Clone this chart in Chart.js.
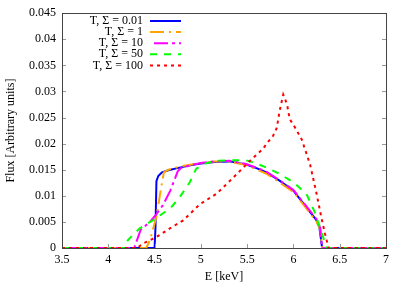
<!DOCTYPE html>
<html>
<head>
<meta charset="utf-8">
<script src="https://cdn.jsdelivr.net/npm/chart.js@4.4.1/dist/chart.umd.min.js"></script>
<style>
  html, body { margin: 0; padding: 0; background: #fff; }
  #wrap { width: 407px; height: 285px; }
</style>
</head>
<body>
<div id="wrap"><canvas id="chart" width="407" height="285"></canvas></div>
<script>
// Energy [keV] and flux values
const labels = ['T, \u03A3 = 0.01', 'T, \u03A3 = 1', 'T, \u03A3 = 10', 'T, \u03A3 = 50', 'T, \u03A3 = 100'];

const eSig001 = [3.5, 4.5, 4.51, 4.52, 4.54, 4.58, 4.65, 4.77, 4.9, 5.0, 5.15, 5.31, 5.49, 5.6, 5.71, 5.85, 6.0, 6.14, 6.25, 6.28, 6.31, 7];
const fSig001 = [0, 0, 0.004, 0.0128, 0.0138, 0.0145, 0.0149, 0.0154, 0.0159, 0.0162, 0.0165, 0.0166, 0.016, 0.0153, 0.0145, 0.0129, 0.011, 0.0078, 0.0053, 0.004, 0, 0];

const eSig1 = [3.5, 4.41, 4.45, 4.52, 4.56, 4.6, 4.65, 4.77, 4.9, 5.0, 5.15, 5.3, 5.49, 5.6, 5.71, 5.85, 6.0, 6.14, 6.25, 6.29, 6.31, 7];
const fSig1 = [0, 0, 0.0015, 0.006, 0.0104, 0.0145, 0.015, 0.0156, 0.016, 0.0163, 0.0166, 0.0166, 0.0159, 0.0151, 0.0142, 0.0126, 0.0107, 0.0076, 0.005, 0.0035, 0, 0];

const eSig10 = [3.5, 4.28, 4.31, 4.35, 4.45, 4.52, 4.59, 4.67, 4.72, 4.75, 4.79, 4.9, 5.0, 5.15, 5.31, 5.49, 5.6, 5.71, 5.85, 6.0, 6.14, 6.25, 6.29, 6.31, 7];
const fSig10 = [0, 0, 0.0015, 0.0035, 0.005, 0.0065, 0.0082, 0.011, 0.0133, 0.0147, 0.0154, 0.0159, 0.0163, 0.0166, 0.0167, 0.0161, 0.0154, 0.0146, 0.013, 0.0111, 0.008, 0.0055, 0.0038, 0, 0];

const eSig50 = [3.5, 4.18, 4.21, 4.34, 4.48, 4.67, 4.77, 4.88, 4.95, 5.05, 5.17, 5.31, 5.49, 5.6, 5.71, 5.85, 6.0, 6.14, 6.23, 6.32, 6.36, 7];
const fSig50 = [0, 0, 0.0015, 0.0038, 0.0053, 0.0076, 0.0097, 0.0126, 0.0152, 0.0162, 0.0167, 0.0168, 0.0168, 0.0162, 0.0154, 0.0142, 0.0126, 0.0104, 0.0069, 0.0021, 0, 0];

const eSig100 = [3.5, 4.31, 4.38, 4.52, 4.67, 4.81, 4.99, 5.17, 5.35, 5.53, 5.67, 5.72, 5.78, 5.82, 5.85, 5.89, 5.93, 5.96, 6.02, 6.09, 6.18, 6.25, 6.3, 6.34, 6.38, 7];
const fSig100 = [0, 0, 0.0009, 0.0021, 0.0038, 0.0053, 0.0084, 0.0104, 0.0135, 0.0167, 0.019, 0.0202, 0.0215, 0.023, 0.0262, 0.0294, 0.0276, 0.0247, 0.023, 0.0208, 0.016, 0.0104, 0.006, 0.0028, 0, 0];

const colors = ['#0000ff', '#ffa500', '#ff00ff', '#00ff00', '#ff0000'];
const dashes = [[], [14, 5, 2, 5], [14, 4, 3, 4], [7, 7], [3, 4]];
const dashOffsets = [0, 0, 21, 0, 0];

const serif = '"Liberation Serif", "DejaVu Serif", serif';

function pts(xs, ys) {
    return xs.map((x, i) => ({ x: x, y: ys[i] }));
}

const series = [
    pts(eSig001, fSig001),
    pts(eSig1, fSig1),
    pts(eSig10, fSig10),
    pts(eSig50, fSig50),
    pts(eSig100, fSig100)
];

const datasets = series.map((d, i) => ({
    label: labels[i],
    data: d,
    borderColor: colors[i],
    borderWidth: 2,
    borderDash: dashes[i],
    borderDashOffset: dashOffsets[i],
    pointRadius: 0,
    tension: 0,
    fill: false,
    order: series.length - i
}));

// inward tick marks on left, right and bottom, plus the frame
const frameTicks = {
    id: 'frameTicks',
    afterDraw(chart) {
        const ctx = chart.ctx;
        const a = chart.chartArea;
        const xs = chart.scales.x, ys = chart.scales.y;
        ctx.save();
        ctx.strokeStyle = '#999';
        ctx.lineWidth = 1;
        ctx.beginPath();
        xs.ticks.forEach(t => {
            const px = Math.round(xs.getPixelForValue(t.value)) + 0.5;
            ctx.moveTo(px, a.bottom);
            ctx.lineTo(px, a.bottom - 4);
        });
        ys.ticks.forEach(t => {
            const py = Math.round(ys.getPixelForValue(t.value)) + 0.5;
            ctx.moveTo(a.left, py);
            ctx.lineTo(a.left + 4, py);
            ctx.moveTo(a.right, py);
            ctx.lineTo(a.right - 4, py);
        });
        ctx.stroke();
        ctx.strokeStyle = '#444';
        ctx.strokeRect(Math.round(a.left) + 0.5, Math.round(a.top) + 0.5,
            Math.round(a.right - a.left), Math.round(a.bottom - a.top));
        ctx.restore();
    }
};

// gnuplot style key: right aligned text followed by a line sample
const keyBox = {
    id: 'keyBox',
    afterDatasetsDraw(chart) {
        const ctx = chart.ctx;
        ctx.save();
        ctx.font = '12px ' + serif;
        ctx.textAlign = 'right';
        ctx.textBaseline = 'middle';
        labels.forEach((lab, i) => {
            const y = 21 + i * 11.1;
            ctx.fillStyle = '#000';
            ctx.fillText(lab, 143, y);
            ctx.strokeStyle = colors[i];
            ctx.lineWidth = 2;
            ctx.setLineDash(dashes[i]);
            ctx.lineDashOffset = dashOffsets[i];
            ctx.beginPath();
            ctx.moveTo(150, y);
            ctx.lineTo(181, y);
            ctx.stroke();
        });
        ctx.restore();
    }
};

new Chart(document.getElementById('chart'), {
    type: 'line',
    data: { datasets: datasets },
    options: {
        responsive: false,
        animation: false,
        events: [],
        layout: { padding: { left: 0, right: 21, top: 11, bottom: 0 } },
        plugins: {
            legend: { display: false },
            tooltip: { enabled: false }
        },
        scales: {
            x: {
                type: 'linear',
                min: 3.5,
                max: 7,
                afterFit(s) { s.height = 37; },
                border: { display: false },
                grid: { display: false, drawTicks: false },
                ticks: {
                    stepSize: 0.5,
                    padding: 5,
                    color: '#000',
                    maxRotation: 0,
                    font: { family: serif, size: 12 },
                    callback: v => String(+v.toFixed(2))
                },
                title: {
                    display: true,
                    text: 'E [keV]',
                    color: '#000',
                    font: { family: serif, size: 12 },
                    padding: { top: 0, bottom: 1 }
                }
            },
            y: {
                min: 0,
                max: 0.045,
                afterFit(s) { s.width = 62; },
                border: { display: false },
                grid: { display: false, drawTicks: false },
                ticks: {
                    stepSize: 0.005,
                    padding: 6,
                    color: '#000',
                    font: { family: serif, size: 12 },
                    callback: v => String(+v.toFixed(3))
                },
                title: {
                    display: true,
                    text: 'Flux [Arbitrary units]',
                    color: '#000',
                    font: { family: serif, size: 12 },
                    padding: { top: 4, bottom: 0 }
                }
            }
        }
    },
    plugins: [frameTicks, keyBox]
});
</script>
</body>
</html>
